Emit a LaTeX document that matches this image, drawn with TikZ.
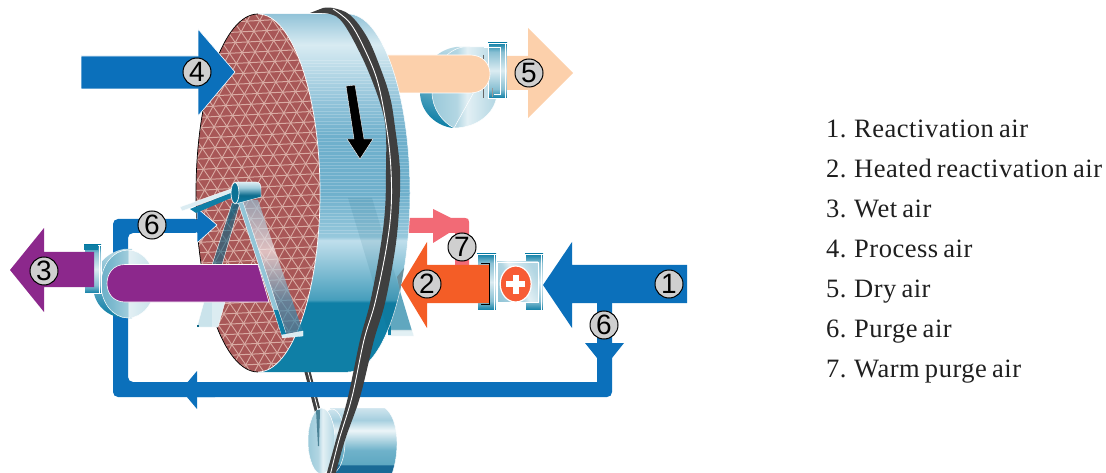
\documentclass[tikz,border=0pt]{standalone}
\usepackage{fontspec}
\setmainfont{Liberation Serif}
\newfontfamily\digitfont{Liberation Sans}
\newfontfamily\legendfont[LetterSpace=2.0,WordSpace=0.72]{Liberation Serif}
\definecolor{ductblue}{HTML}{0B70BB}
\definecolor{peach}{HTML}{FCD0AB}
\definecolor{purp}{HTML}{8C288C}
\definecolor{orng}{HTML}{F45D26}
\definecolor{pinkr}{HTML}{F26A76}
\definecolor{beltgray}{HTML}{3F3F3F}
\definecolor{honey}{HTML}{A85757}
\definecolor{honeyline}{HTML}{D9ABA3}
\definecolor{tealdk}{HTML}{0F7FA6}
\definecolor{rima}{RGB}{70,158,188}
\definecolor{rimb}{RGB}{150,200,220}
\definecolor{rimc}{RGB}{192,223,236}
\definecolor{rimd}{RGB}{111,176,204}
\definecolor{rime}{RGB}{147,196,218}
\definecolor{rimf}{RGB}{216,235,242}
\definecolor{rimg}{RGB}{146,195,216}
\definecolor{pula}{RGB}{26,106,150}
\definecolor{pulb}{RGB}{95,168,194}
\definecolor{pulc}{RGB}{111,178,202}
\definecolor{puld}{RGB}{236,245,248}
\definecolor{pule}{RGB}{166,207,223}
\definecolor{pulf}{RGB}{207,229,238}
\definecolor{lega}{RGB}{43,125,160}
\definecolor{legb}{RGB}{79,143,174}
\definecolor{legc}{RGB}{245,232,232}
\definecolor{legd}{RGB}{150,185,205}
\pgfdeclareverticalshading{rimshade}{100bp}{
 color(0bp)=(tealdk); color(34.7bp)=(tealdk); color(35.1bp)=(rima);
 color(43.4bp)=(rimc); color(43.9bp)=(rimb); color(50bp)=(rimd);
 color(58bp)=(rimd); color(63bp)=(rime);
 color(70.7bp)=(rimf); color(75bp)=(rimg); color(100bp)=(rimg)}
\pgfdeclareverticalshading{pulleyshade}{100bp}{
 color(0bp)=(pula); color(31.5bp)=(pula); color(32.5bp)=(pulb);
 color(43bp)=(pulc); color(58bp)=(puld); color(66bp)=(pule);
 color(75bp)=(pulf); color(100bp)=(pulf)}
\pgfdeclarehorizontalshading{fandisc}{100bp}{
 color(0bp)=(tealdk!75!white); color(35bp)=(tealdk!55!white); color(49.5bp)=(tealdk!40!white); color(50.5bp)=(tealdk!12!white); color(100bp)=(tealdk!35!white)}
\pgfdeclarehorizontalshading{softdisc}{100bp}{
 color(0bp)=(tealdk!55!white); color(44bp)=(tealdk!32!white); color(52bp)=(tealdk!12!white); color(75bp)=(tealdk!32!white); color(100bp)=(tealdk!32!white)}
\pgfdeclareverticalshading{flangeshade}{100bp}{
 color(0bp)=(tealdk); color(25bp)=(tealdk); color(33bp)=(tealdk!50!white); color(50bp)=(tealdk!15!white); color(67bp)=(tealdk!50!white); color(75bp)=(tealdk); color(100bp)=(tealdk)}
\pgfdeclareverticalshading{backbody}{100bp}{
 color(0bp)=(tealdk); color(25bp)=(tealdk); color(34bp)=(tealdk!85!white); color(44bp)=(tealdk!70!white); color(60bp)=(tealdk!50!white); color(75bp)=(tealdk!30!white); color(100bp)=(tealdk!30!white)}
\pgfdeclareverticalshading{legshade}{100bp}{
 color(0bp)=(lega); color(25bp)=(lega); color(38bp)=(legb);
 color(56bp)=(legc); color(75bp)=(legd); color(100bp)=(legd)}
\pgfdeclareverticalshading{hubshade}{100bp}{
 color(0bp)=(tealdk); color(25bp)=(tealdk); color(45bp)=(tealdk!85!black); color(62bp)=(tealdk!40!white); color(75bp)=(tealdk!15!white); color(100bp)=(tealdk!15!white)}
\tikzset{
 x=1pt,y=-1pt,
 tag/.style={circle,draw=black,line width=1pt,fill=black!19,minimum size=28pt,inner sep=0pt,font=\digitfont\fontsize{28}{28}\selectfont},
 legend/.style={anchor=base west,inner sep=0pt,text=black!88,font=\legendfont\fontsize{26.5}{30}\selectfont},
 flow/.style={draw=white,line width=.6pt},
 rimbody/.style={shading=rimshade},
 fanbody/.style={shading=fandisc,draw=white,line width=.5pt},
 flange/.style={shading=flangeshade,draw=white,line width=.4pt},
 whitethin/.style={draw=white,line width=.4pt},
}
\begin{document}
\begin{tikzpicture}
\useasboundingbox (0,0) rectangle (1106,473);
\clip (0,0) rectangle (1106,473);

% rear belt strand
\draw[draw=beltgray,line width=6pt] (306,366) -- (318,412);
\draw[white,line width=.8pt] (306.5,366) -- (318.5,412);

% fan of the dry air
\path[shading=backbody,shading angle=-20] (456,47) .. controls (434,50) and (420,70) .. (420,92) .. controls (420,112) and (436,126) .. (453,128) -- (470,120) -- (470,47) -- cycle;
\path[shading=softdisc,draw=white,line width=.5pt] (463,47) -- (490,47) -- (490,70) -- (497,92) .. controls (497,112) and (478,128) .. (454,128) .. controls (442,122) and (432,108) .. (432,92) .. controls (432,70) and (445,50) .. (463,47) -- cycle;
\draw[white,line width=.5pt] (454,128) -- (474,92);
\path[flange] (488,43) rectangle (507,98);
\draw[white,line width=.8pt] (484,47) -- (500,47) -- (500,94) -- (494,94);
\draw[white,line width=.8pt] (505,43) -- (505,98);
\draw[black!60,line width=.7pt] (483,55) -- (483,98);
\draw[black!40,line width=.6pt] (492,88) -- (492,97);

% dry air
\path[flow,fill=peach] (380,55) -- (470,55) .. controls (483,55) and (490,64) .. (490,74) .. controls (490,84) and (483,93) .. (470,93) -- (380,93);
\path[fill=peach] (507,56) -- (528,56) -- (528,28) -- (573,73) -- (528,118) -- (528,90) -- (507,90) -- cycle;

% warm purge air
\path[fill=pinkr] (400,218) -- (433,218) -- (433,209) -- (451,218) -- (465,218) .. controls (468,218) and (469,219) .. (469,222) -- (469,270) -- (455,270) -- (455,233) -- (449,233) -- (433,243) -- (433,233) -- (400,233) -- cycle;

% rear leg below the wheel
\path[fill=tealdk!62!white] (372,198) -- (412,331) -- (388,331) -- (348,198) -- cycle;
\path[fill=tealdk!12!white,draw=white,line width=.3pt] (388,330) -- (412,330) -- (414,336) -- (388,336) -- cycle;
\path[fill=tealdk] (388,326) -- (391,326) -- (391,335) -- (388,335) -- cycle;

% wheel rim
\path[rimbody] (258,14) -- (348,14) .. controls (382.2,14) and (410,94.1) .. (410,193) .. controls (410,291.9) and (382.2,372) .. (348,372) -- (258,372) -- cycle;
\begin{scope}
\clip (258,14) -- (348,14) .. controls (382.2,14) and (410,94.1) .. (410,193) .. controls (410,291.9) and (382.2,372) .. (348,372) -- (258,372) -- cycle;
\foreach \yy in {60,63.4,...,236} {\draw[white,opacity=.2,line width=.7pt] (300,\yy) -- (412,\yy);}
\end{scope}
\draw[white,line width=.5pt] (348,14) .. controls (382.2,14) and (410,94.1) .. (410,193) .. controls (410,291.9) and (382.2,372) .. (348,372);
% ghost of the leg seen through the rim
\path[fill=tealdk!70!black,fill opacity=.1] (372,198) -- (412,331) -- (388,331) -- (348,198) -- cycle;
\path[fill=black!45!tealdk!60!white] (397,277) -- (404,268) -- (400,292) -- cycle;

% wheel face with honeycomb
\begin{scope}
\clip (258,193) ellipse[x radius=62,y radius=179];
\fill[honey] (190,10) rectangle (330,380);
\begin{scope}[rotate around={3:(258,193)}]
\foreach \k in {-2,...,40} {\draw[honeyline,line width=1pt] (140,{\k*10.4}) -- (380,{\k*10.4});}
\foreach \k in {-12,...,52} {
 \draw[honeyline,line width=.9pt] ({\k*12.8},-20.8) -- ({\k*12.8+262.4},405.6);
 \draw[honeyline,line width=.9pt] ({\k*12.8},-20.8) -- ({\k*12.8-262.4},405.6);
}
\end{scope}
\end{scope}
\draw[white,line width=.7pt] (258,14) .. controls (292.2,14) and (320,94.1) .. (320,193) .. controls (320,291.9) and (292.2,372) .. (258,372);
\draw[black,line width=.7pt] (258,14) .. controls (223.8,14) and (196,94.1) .. (196,193) .. controls (196,291.9) and (223.8,372) .. (258,372);

% purge air duct
\path[fill=ductblue,rounded corners=5pt] (220,382) -- (128,382) -- (128,233) -- (200,233) -- (200,219) -- (113,219) -- (113,397) -- (220,397) -- cycle;
\path[fill=ductblue] (195,382) -- (597,382) -- (597,303) -- (612,303) -- (612,392) .. controls (612,395) and (610,397) .. (607,397) -- (195,397) -- cycle;
\path[fill=ductblue] (197,371) -- (197,409) -- (181,390) -- cycle;
\path[flow,fill=ductblue] (197,219) -- (197,208) -- (217,225) -- (197,243) -- (197,233);
\path[fill=ductblue] (585,343) -- (624,343) -- (612,358) -- (597,358) -- cycle;

% fan of the wet air
\path[shading=backbody,shading angle=-8] (124,249) .. controls (106,252) and (93,268) .. (93,285) .. controls (93,305) and (108,318) .. (126,318) -- (132,318) -- (132,249) -- cycle;
\path[fanbody] (128,284) ellipse[x radius=27,y radius=34];
\path[flange] (84,245) rectangle (101,293);
\draw[white,line width=.8pt] (99,245) -- (99,293);
\path[fill=tealdk] (84,245) rectangle (98,250);

% left leg of the front support
\path[fill=tealdk!22!white,draw=white,line width=.3pt] (197,327) -- (204,302) -- (225,302) -- (218,327) -- cycle;
\path[fill=white,fill opacity=.35] (212,302) -- (225,302) -- (218,327) -- (212,327) -- cycle;
\path[fill=tealdk!80!black] (197,325) -- (199,325) -- (199,327) -- (197,327) -- cycle;
\path[fill=tealdk!80!black,fill opacity=.6,whitethin] (232,203) -- (240,203) -- (222,265) -- (212,265) -- cycle;
\path[fill=tealdk!80!black,fill opacity=.45] (226,233) -- (228,225) -- (240,203) -- (232,203) -- cycle;

% wet air
\path[fill=purp] (94,252) -- (44,252) -- (44,228) -- (10,270) -- (44,312) -- (44,287) -- (94,287) -- cycle;
\path[flow,fill=purp] (258,264.5) -- (125,264.5) .. controls (113,264.5) and (107,274) .. (107,283.5) .. controls (107,293) and (113,302) .. (125,302) -- (269,302) -- cycle;

% right leg and the hub of the front support
\path[fill=tealdk!15!white,draw=white,line width=.3pt] (180,207) -- (231,189) -- (231,193) -- (182,211) -- cycle;
\path[fill=tealdk] (190,209) -- (231,193) -- (231,198) -- (196,213) -- cycle;
\path[shading=legshade,fill opacity=.72] (238,200) -- (258,200) -- (303,332) -- (282,336) -- cycle;
\path[fill=tealdk!45!white,draw=white,line width=.4pt] (238,202) -- (243,202) -- (286,333) -- (282,336) -- cycle;
\path[fill=tealdk] (274,310) -- (278,310) -- (286,334) -- (282,336) -- cycle;
\path[fill=tealdk!15!white,draw=white,line width=.3pt] (282,335) -- (303,331) -- (303,336) -- (282,338) -- cycle;
\path[shading=hubshade,whitethin] (235,182) -- (256,182) .. controls (260,182) and (261,185) .. (261,189) -- (261,197) -- (235,204) -- cycle;
\path[fill=tealdk!90!black,draw=white,line width=.7pt] (235,193) ellipse[x radius=4,y radius=10.5];

% rotation arrow
\path[fill=black,draw=white,line width=.4pt] (346,86) -- (355,85) -- (364,139) -- (373,139) -- (360,159) -- (347,139) -- (354,139) -- cycle;

% driving belt and pulley
\path[shading=pulleyshade,whitethin] (330,408) -- (385,408) .. controls (393,414) and (397,428) .. (397,443) .. controls (397,455) and (395,465) .. (392,474) -- (330,474) -- cycle;
\path[shading=pulleyshade,draw=white,line width=.5pt] (332,441) ellipse[x radius=13,y radius=32];
\path[shading=softdisc,draw=white,line width=.5pt] (321.5,441) ellipse[x radius=13.5,y radius=33];
\path[fill=tealdk!60!black,fill opacity=.6] (316,410) -- (320,410) -- (319,446) -- (318,446) -- cycle;
\path[fill=beltgray] plot[smooth,tension=.6] coordinates {(310,13) (330,14) (343,23) (360,53) (373,83) (383,113) (386,135) (386,170) (385,210) (380,250) (370,303) (360,340) (348,397) (336,440) (326,476)}
 -- plot[smooth,tension=.6] coordinates {(335,476) (345,440) (360,397) (374,340) (385,303) (395,250) (399,210) (400,170) (395,127) (390,97) (380,67) (367,37) (350,15) (333,8) (323,8)} -- cycle;
\draw[white,line width=.9pt] plot[smooth,tension=.6] coordinates {(333,9) (350,23) (365,50) (378,83) (387,130) (391,170) (391,210) (386,250) (375,303) (364,340) (352,397) (339,440) (330,476)};

% process air
\path[flow,fill=ductblue] (81,56) -- (198,56) -- (198,29) -- (235,72) -- (198,116) -- (198,89) -- (81,89) -- cycle;

% heater
\path[flange] (477,254) rectangle (496,310);
\path[flange] (525,254) rectangle (543,310);
\draw[white,line width=.8pt] (494.5,254) -- (494.5,310);
\draw[white,line width=.8pt] (541,254) -- (541,310);
\path[shading=softdisc,shading angle=30,draw=white,line width=.7pt] (497,262) rectangle (538,302);

% heated reactivation air
\path[fill=orng] (489,265) -- (427,265) -- (427,242) -- (401,285) -- (427,328) -- (427,303) -- (489,303) -- cycle;
\draw[black,line width=.8pt] (481,263.5) -- (489,263.5) -- (489,304) -- (481,304);

\path[fill=orng!80!red!90!white,draw=white,line width=1.2pt] (515.7,284) ellipse[x radius=15.5,y radius=18];
\fill[white] (506.2,281) rectangle (525.2,287);
\fill[white] (512.7,274.5) rectangle (518.7,293.5);

% reactivation air
\path[fill=ductblue] (687,265) -- (572,265) -- (572,242) -- (543,285) -- (572,328) -- (572,303) -- (687,303) -- cycle;

% labels on the streams
\node[tag] (t1) at (669,284) {1};
\node[tag] (t2) at (427,284) {2};
\node[tag] (t3) at (44,271) {3};
\node[tag] (t4) at (197,72) {4};
\node[tag] (t5) at (529,73) {5};
\node[tag] (t6a) at (152,225) {6};
\node[tag] (t6b) at (604,325) {6};
\node[tag] (t7) at (462,247) {7};

% legend
\node[legend] (l1) at (826,137.5) {1. Reactivation air};
\node[legend] (l2) at (826,177.5) {2. Heated reactivation air};
\node[legend] (l3) at (826,217.5) {3. Wet air};
\node[legend] (l4) at (826,257.5) {4. Process air};
\node[legend] (l5) at (826,297.5) {5. Dry air};
\node[legend] (l6) at (826,337.5) {6. Purge air};
\node[legend] (l7) at (826,377.5) {7. Warm purge air};
\end{tikzpicture}
\end{document}
